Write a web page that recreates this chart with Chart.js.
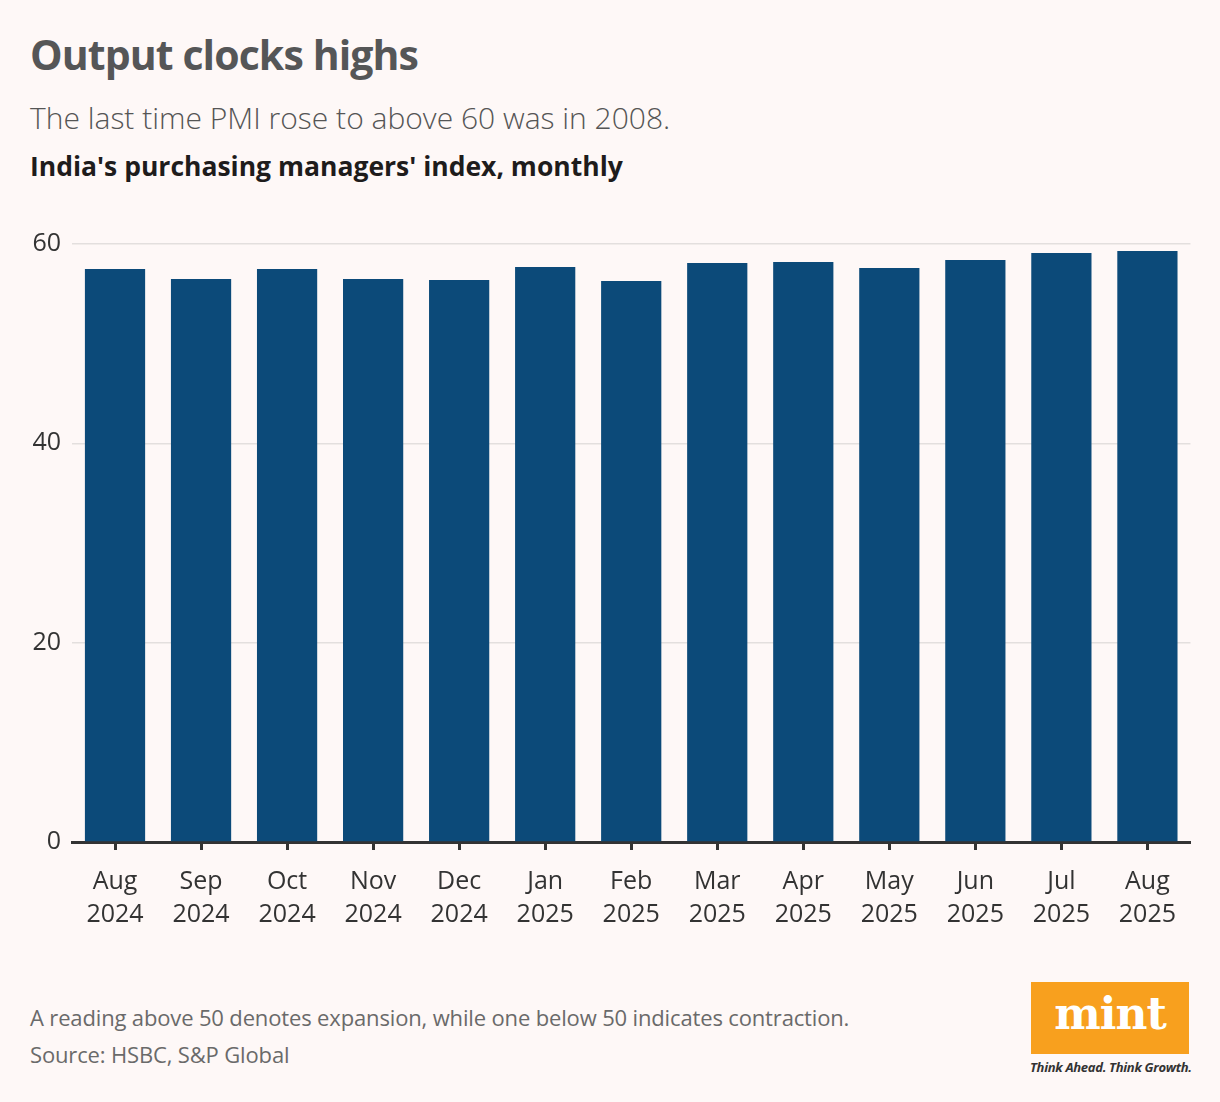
<!DOCTYPE html>
<html>
<head>
<meta charset="utf-8">
<script src="https://cdn.jsdelivr.net/npm/chart.js@4"></script>
<style>
    body { margin: 0; background: #fef8f7; font-family: "Open Sans", sans-serif; }
    #page { position: relative; width: 1220px; height: 1102px; overflow: hidden; }
    .title { position: absolute; left: 30px; top: 26px; font-size: 41px; font-weight: 700; color: #555657; letter-spacing: -0.9px; }
    .sub { position: absolute; left: 30px; top: 97px; font-size: 30px; font-weight: 300; color: #555; letter-spacing: 0; }
    .label { position: absolute; left: 30px; top: 148px; font-size: 26.5px; font-weight: 700; color: #1e1c1c; letter-spacing: 0; }
    #chartBox { position: absolute; left: 21px; top: 218px; width: 1171px; height: 724px; }
    .note { position: absolute; left: 30px; font-size: 22px; color: #6a6a6a; letter-spacing: -0.15px; }
    .logo { position: absolute; left: 1031px; top: 982px; width: 158px; height: 72px; background: #f8a01e;
            color: #fff; font-family: "DejaVu Serif", serif; font-weight: 700; font-size: 44px; text-align: center; line-height: 64px; letter-spacing: -1px; }
    .tag { position: absolute; left: 1030px; top: 1058px; font-size: 13px; font-style: italic; font-weight: 700; color: #333; letter-spacing: -0.3px; }
</style>
</head>
<body>
<div id="page">
    <div class="title">Output clocks highs</div>
    <div class="sub">The last time PMI rose to above 60 was in 2008.</div>
    <div class="label">India's purchasing managers' index, monthly</div>
    <div id="chartBox"><canvas id="pmiChart"></canvas></div>
    <div class="note" style="top: 1002px;">A reading above 50 denotes expansion, while one below 50 indicates contraction.</div>
    <div class="note" style="top: 1039px;">Source: HSBC, S&amp;P Global</div>
    <div class="logo">mint</div>
    <div class="tag">Think Ahead. Think Growth.</div>
</div>
<script>
// Monthly PMI readings
const months = ['Aug', 'Sep', 'Oct', 'Nov', 'Dec', 'Jan', 'Feb', 'Mar', 'Apr', 'May', 'Jun', 'Jul', 'Aug'];
const years = ['2024', '2024', '2024', '2024', '2024', '2025', '2025', '2025', '2025', '2025', '2025', '2025', '2025'];
const pmiValues = [57.5, 56.5, 57.5, 56.5, 56.4, 57.7, 56.3, 58.1, 58.2, 57.6, 58.4, 59.1, 59.3];
const yTicks = [0, 20, 40, 60];

const labels = months.map((m, i) => [m, years[i]]);

const ctx = document.getElementById('pmiChart').getContext('2d');
new Chart(ctx, {
    type: 'bar',
    data: {
        labels: labels,
        datasets: [{
            label: 'PMI',
            data: pmiValues,
            backgroundColor: '#0c4a79',
            barPercentage: 0.7,
            categoryPercentage: 1.0
        }]
    },
    options: {
        responsive: true,
        maintainAspectRatio: false,
        animation: false,
        layout: { padding: { top: 1, right: 0, left: 0, bottom: 0 } },
        plugins: {
            legend: { display: false },
            tooltip: { enabled: false }
        },
        scales: {
            x: {
                grid: { offset: false, drawOnChartArea: false, drawTicks: true, tickLength: 8, tickWidth: 3, tickColor: '#333' },
                border: { display: true, color: '#333', width: 3 },
                ticks: {
                    color: '#333',
                    font: { family: 'Open Sans', size: 25, lineHeight: 1.3 },
                    padding: 16,
                    maxRotation: 0,
                    autoSkip: false
                },
                afterFit: scale => { scale.height = 100; }
            },
            y: {
                min: 0,
                max: 60,
                afterBuildTicks: scale => { scale.ticks = yTicks.map(v => ({ value: v })); },
                grid: { color: '#e3dfde', lineWidth: 1.5, drawTicks: false },
                border: { display: false },
                ticks: {
                    color: '#333',
                    font: { family: 'Open Sans', size: 25 },
                    padding: 11
                },
                afterFit: scale => { scale.width = 51; }
            }
        }
    }
});
</script>
</body>
</html>
